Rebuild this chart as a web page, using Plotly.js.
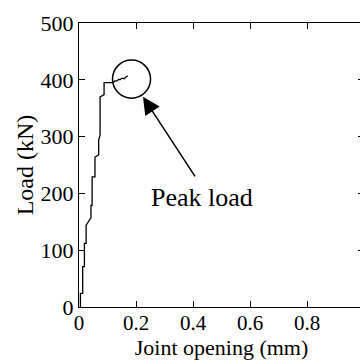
<!DOCTYPE html>
<html>
<head>
<meta charset="utf-8">
<script src="https://cdn.plot.ly/plotly-3.0.1.min.js"></script>
<style>
html,body{margin:0;padding:0;width:360px;height:360px;overflow:hidden;background:#fff;}
#chart{width:380px;height:360px;}
</style>
</head>
<body>
<div id="chart"></div>
<script>
// Joint opening (mm) and load (kN)
var opening = [0.005,0.005,0.013,0.013,0.019,0.019,0.025,0.025,0.042,0.042,0.046,0.046,0.056,0.056,0.069,0.069,0.074,0.074,0.088,0.088,0.112,0.119,0.126,0.133,0.140,0.144,0.151,0.158,0.165,0.171];
var load = [0,24,24,71,71,112,112,144,157,179,179,229,229,264,268,294,303,370,374,395,395,395,398,398,401,400,403,402,405,407];
var xTicks = [0,0.2,0.4,0.6,0.8,1];
var xTickText = ["0","0.2","0.4","0.6","0.8","1"];
var yTicks = [0,100,200,300,400,500];
var yTickText = ["0","100","200","300","400","500"];
var annotationText = "Peak load";

var font = "Liberation Serif, Times New Roman, serif";

var trace = {
  x: opening, y: load, type: "scatter", mode: "lines",
  line: {color: "#000", width: 1.3}, hoverinfo: "skip"
};

var layout = {
  width: 380, height: 360,
  margin: {l: 79, r: 16, t: 23.3, b: 53.3},
  paper_bgcolor: "#fff", plot_bgcolor: "#fff",
  showlegend: false,
  font: {family: font, color: "#000", size: 20},
  xaxis: {
    range: [0, 1], tickvals: xTicks, ticktext: xTickText,
    ticks: "inside", ticklen: 6, tickwidth: 1, tickcolor: "#000",
    showline: true, linecolor: "#000", linewidth: 1, mirror: "ticks",
    showgrid: false, zeroline: false, ticklabelstandoff: -3,
    tickfont: {family: font, size: 21},
    title: {text: "Joint opening (mm)", font: {family: font, size: 22}, standoff: 8}
  },
  yaxis: {
    range: [0, 500], tickvals: yTicks, ticktext: yTickText,
    ticks: "inside", ticklen: 6, tickwidth: 1, tickcolor: "#000",
    showline: true, linecolor: "#000", linewidth: 1, mirror: "ticks",
    showgrid: false, zeroline: false,
    tickfont: {family: font, size: 22},
    title: {text: "Load (kN)", font: {family: font, size: 24}, standoff: 0}
  },
  shapes: [{
    type: "circle", xref: "x", yref: "y",
    x0: 0.1175, x1: 0.251, y0: 367.7, y1: 434.8,
    line: {color: "#000", width: 1.5}
  }],
  annotations: [
    {
      x: 0.2246, y: 370, xref: "x", yref: "y",
      ax: 53, ay: 81, axref: "pixel", ayref: "pixel",
      text: "", showarrow: true, arrowhead: 2, arrowsize: 2.3,
      arrowwidth: 1.5, arrowcolor: "#000"
    },
    {
      x: 0.433, y: 193.6, xref: "x", yref: "y",
      text: annotationText, showarrow: false,
      font: {family: font, size: 26, color: "#000"}
    }
  ]
};

Plotly.newPlot("chart", [trace], layout, {staticPlot: true, displayModeBar: false});
</script>
</body>
</html>
